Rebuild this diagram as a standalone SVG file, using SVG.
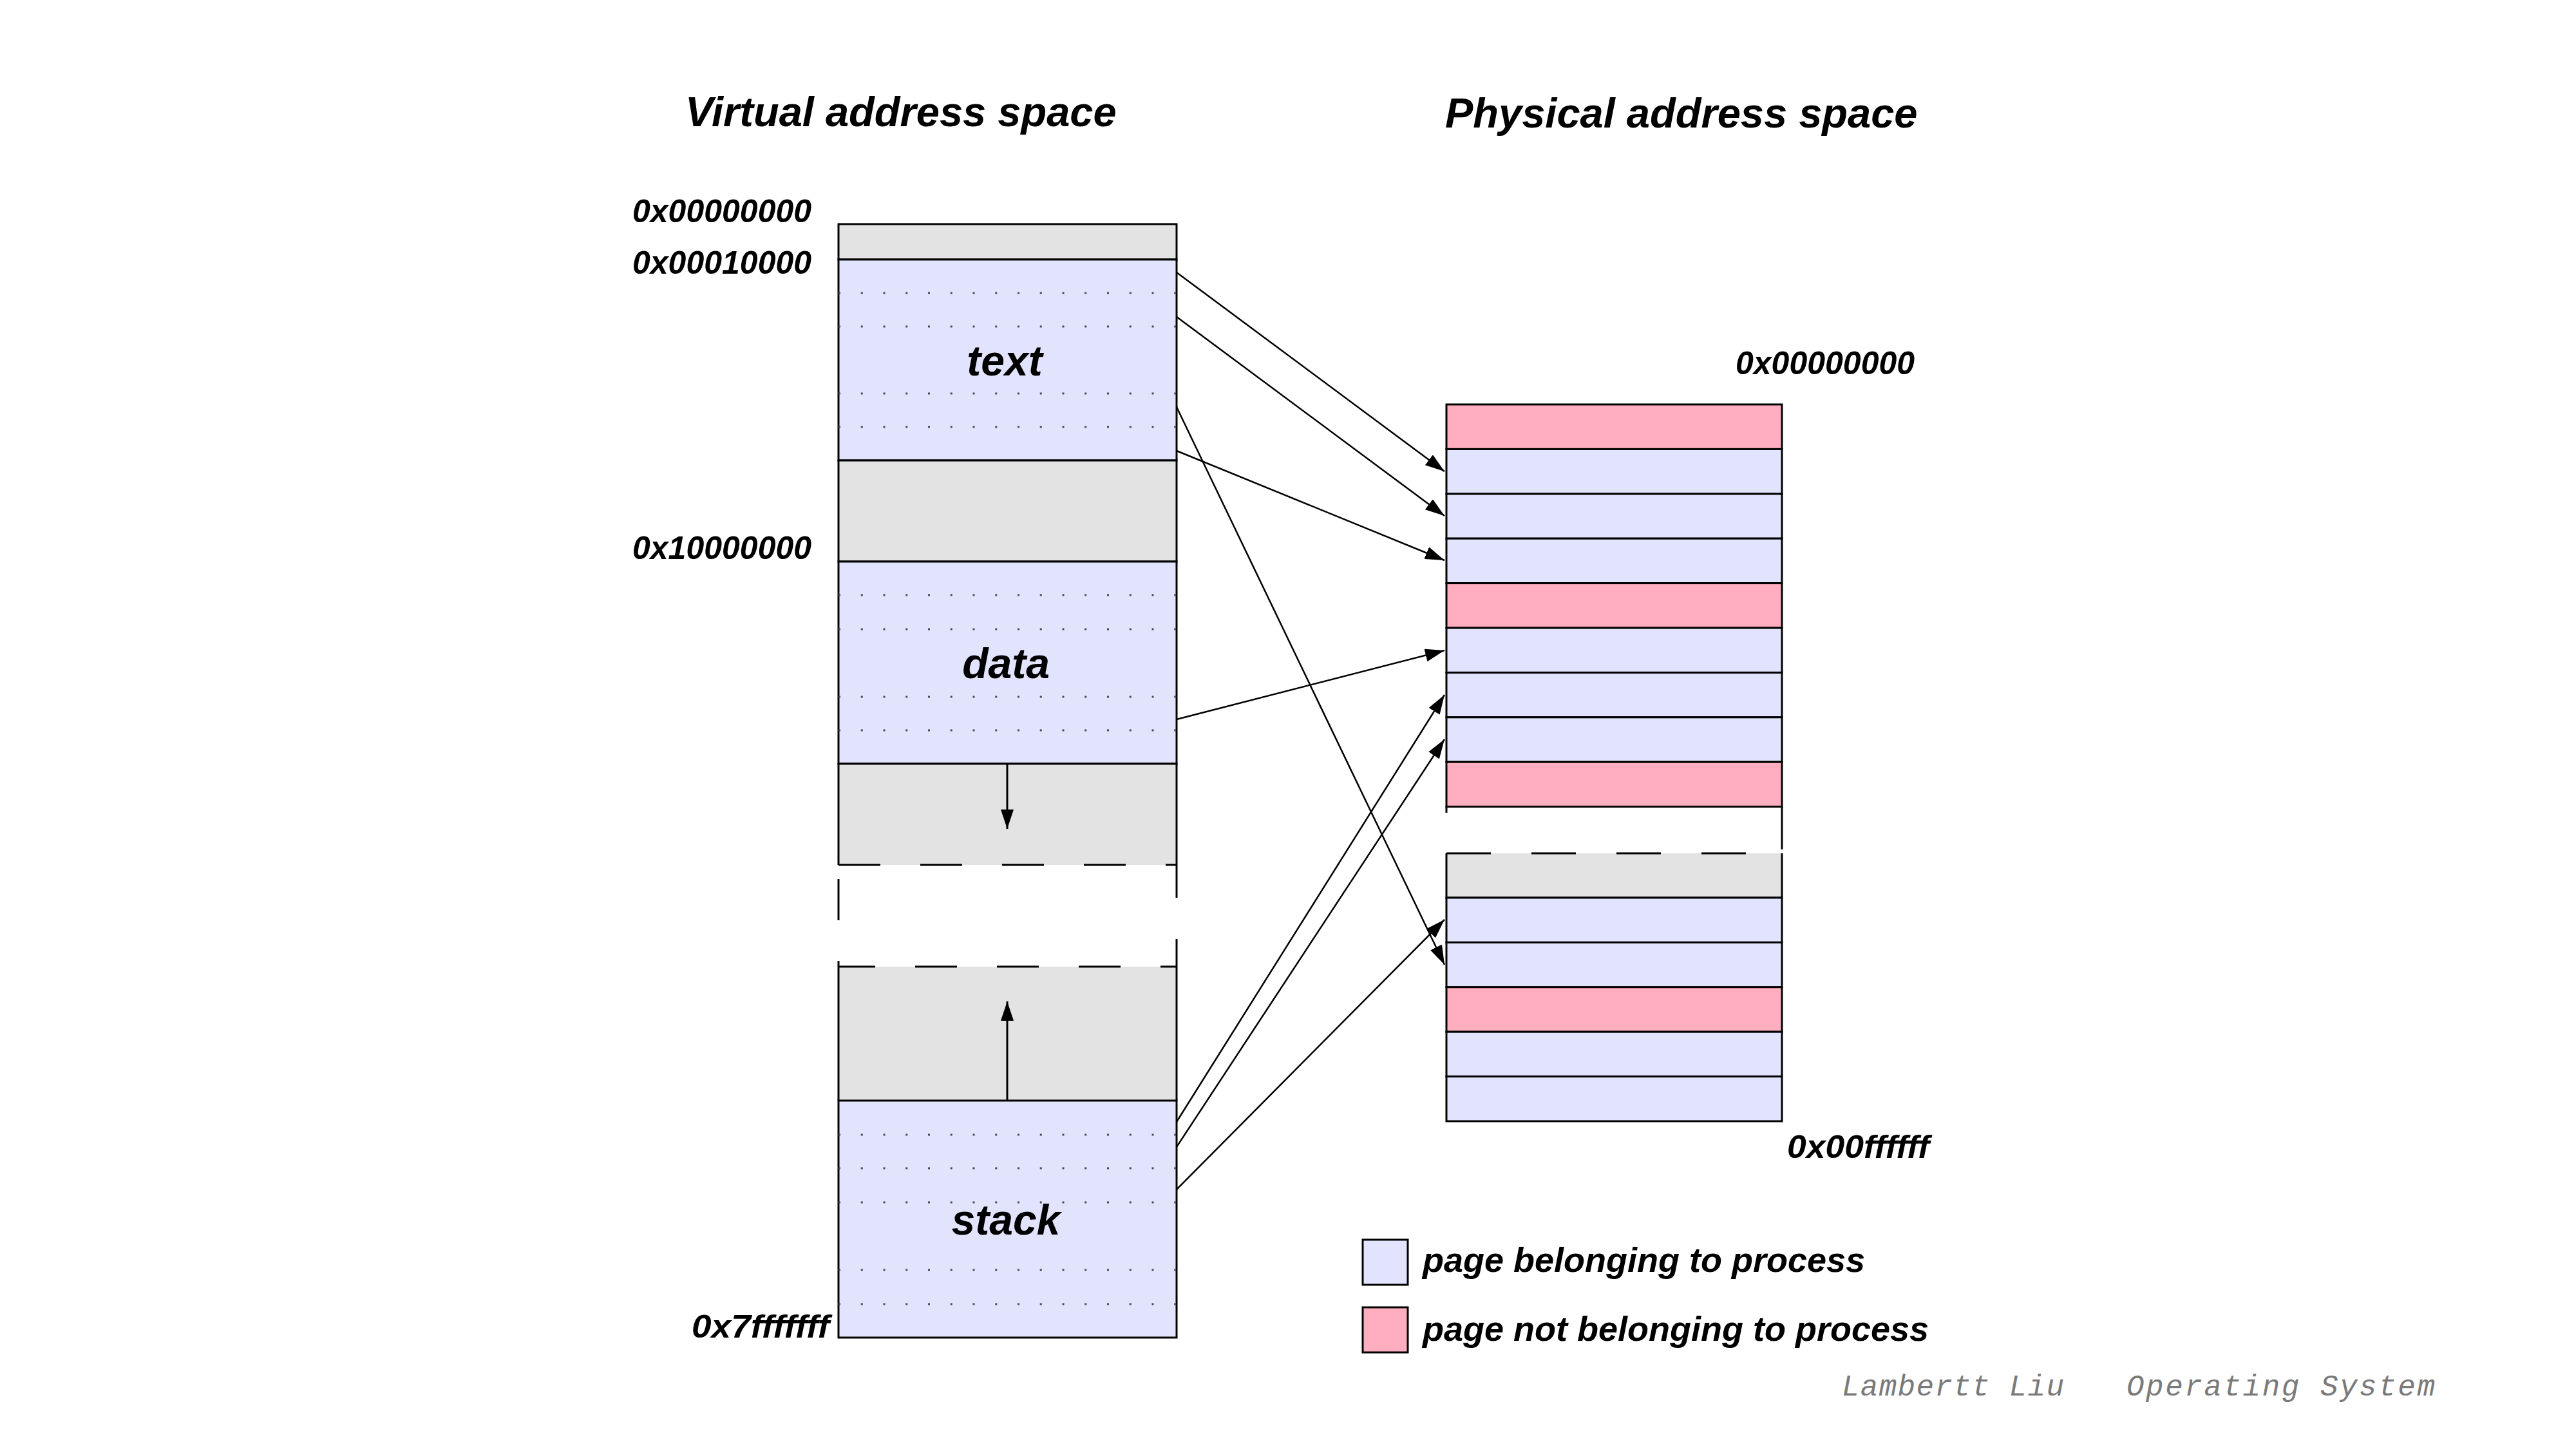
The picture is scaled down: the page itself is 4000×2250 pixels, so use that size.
<svg xmlns="http://www.w3.org/2000/svg" width="4000" height="2250" viewBox="0 0 4000 2250">
  <style>
    .lbl { font-family: "Liberation Sans", Arial, sans-serif; font-weight: bold; font-style: italic; fill: #000; }
    .blue { fill: #e1e4fc; stroke: #000; stroke-width: 3; }
    .gray { fill: #e3e3e3; stroke: none; }
    .pink { fill: #ffaec0; stroke: #000; stroke-width: 3; }
    .edge { stroke: #000; stroke-width: 3; fill: none; }
    .dash { stroke: #000; stroke-width: 3; fill: none; stroke-dasharray: 65 62; }
    .dots { stroke: #4a4a55; stroke-width: 3; stroke-dasharray: 3 31.75; fill: none; }
    .conn { stroke: #000; stroke-width: 2.5; fill: none; marker-end: url(#arrow); }
    .mark { font-family: "Liberation Mono", "DejaVu Sans Mono", monospace; font-style: italic; font-size: 46px; fill: #7a7a7a; }
  </style>
  <defs>
    <marker id="arrow" markerUnits="userSpaceOnUse" viewBox="0 0 30 20" refX="30" refY="10" markerWidth="30" markerHeight="20" orient="auto">
      <path d="M0,0 L30,10 L0,20 z" fill="#000"/>
    </marker>
  </defs>

  <rect width="4000" height="2250" fill="#fff"/>

  <!-- headings -->
  <text class="lbl" x="1064" y="196" font-size="65">Virtual address space</text>
  <text class="lbl" x="2244" y="198" font-size="65">Physical address space</text>

  <!-- virtual address space column -->
  <g id="virtual-space">
    <g id="v-reserved">
      <rect class="gray" x="1302" y="348" width="525" height="55"/>
      <rect class="edge" x="1302" y="348" width="525" height="55"/>
    </g>
    <g id="v-text">
      <rect class="blue" x="1302" y="403" width="525" height="312"/>
      <line class="dots" x1="1302" y1="455" x2="1830" y2="455"/>
      <line class="dots" x1="1302" y1="507" x2="1830" y2="507"/>
      <line class="dots" x1="1302" y1="611" x2="1830" y2="611"/>
      <line class="dots" x1="1302" y1="663" x2="1830" y2="663"/>
      <text class="lbl" x="1560" y="583" font-size="66" text-anchor="middle">text</text>
    </g>
    <g id="v-gap1">
      <rect class="gray" x="1302" y="715" width="525" height="157"/>
      <rect class="edge" x="1302" y="715" width="525" height="157"/>
    </g>
    <g id="v-data">
      <rect class="blue" x="1302" y="872" width="525" height="314"/>
      <line class="dots" x1="1302" y1="924" x2="1830" y2="924"/>
      <line class="dots" x1="1302" y1="977" x2="1830" y2="977"/>
      <line class="dots" x1="1302" y1="1082" x2="1830" y2="1082"/>
      <line class="dots" x1="1302" y1="1134" x2="1830" y2="1134"/>
      <text class="lbl" x="1562" y="1053" font-size="66" text-anchor="middle">data</text>
    </g>
    <g id="v-heap">
      <rect class="gray" x="1302" y="1186" width="525" height="157"/>
      <path class="edge" d="M1302,1343 V1186 H1827 V1343"/>
      <line class="dash" x1="1302" y1="1343" x2="1827" y2="1343"/>
      <line class="edge" x1="1564" y1="1186" x2="1564" y2="1287" marker-end="url(#arrow)"/>
    </g>
    <g id="v-unmapped">
      <line class="edge" x1="1302" y1="1365" x2="1302" y2="1429"/>
      <line class="edge" x1="1827" y1="1343" x2="1827" y2="1394"/>
    </g>
    <g id="v-stack-growth">
      <rect class="gray" x="1302" y="1501" width="525" height="208"/>
      <line class="edge" x1="1302" y1="1492" x2="1302" y2="1709"/>
      <line class="edge" x1="1827" y1="1458" x2="1827" y2="1709"/>
      <line class="dash" x1="1302" y1="1501" x2="1827" y2="1501" stroke-dashoffset="8"/>
      <line class="edge" x1="1564" y1="1709" x2="1564" y2="1555" marker-end="url(#arrow)"/>
    </g>
    <g id="v-stack">
      <rect class="blue" x="1302" y="1709" width="525" height="368"/>
      <line class="dots" x1="1302" y1="1762" x2="1830" y2="1762"/>
      <line class="dots" x1="1302" y1="1814" x2="1830" y2="1814"/>
      <line class="dots" x1="1302" y1="1867" x2="1830" y2="1867"/>
      <line class="dots" x1="1302" y1="1972" x2="1830" y2="1972"/>
      <line class="dots" x1="1302" y1="2025" x2="1830" y2="2025"/>
      <text class="lbl" x="1562" y="1917" font-size="66" text-anchor="middle">stack</text>
    </g>
    <text class="lbl" x="982" y="345" font-size="50">0x00000000</text>
    <text class="lbl" x="982" y="425" font-size="50">0x00010000</text>
    <text class="lbl" x="982" y="868" font-size="50">0x10000000</text>
    <text class="lbl" x="1074" y="2077" font-size="50" textLength="214" lengthAdjust="spacingAndGlyphs">0x7fffffff</text>
  </g>

  <!-- physical address space column -->
  <g id="physical-space">
    <rect class="pink" x="2246" y="628" width="521" height="69.4"/>
    <rect class="blue" x="2246" y="697.4" width="521" height="69.4"/>
    <rect class="blue" x="2246" y="766.8" width="521" height="69.4"/>
    <rect class="blue" x="2246" y="836.2" width="521" height="69.4"/>
    <rect class="pink" x="2246" y="905.6" width="521" height="69.4"/>
    <rect class="blue" x="2246" y="975" width="521" height="69.4"/>
    <rect class="blue" x="2246" y="1044.4" width="521" height="69.4"/>
    <rect class="blue" x="2246" y="1113.8" width="521" height="69.4"/>
    <rect class="pink" x="2246" y="1183.2" width="521" height="69.4"/>
    <line class="edge" x1="2246" y1="1252" x2="2246" y2="1262"/>
    <line class="edge" x1="2767" y1="1252" x2="2767" y2="1319"/>

    <rect class="gray" x="2246" y="1325" width="521" height="69"/>
    <path class="edge" d="M2246,1325 V1394 H2767 V1325"/>
    <line class="dash" x1="2246" y1="1325" x2="2767" y2="1325" style="stroke-dasharray: 69 63"/>
    <rect class="blue" x="2246" y="1394" width="521" height="69.4"/>
    <rect class="blue" x="2246" y="1463.4" width="521" height="69.4"/>
    <rect class="pink" x="2246" y="1532.8" width="521" height="69.4"/>
    <rect class="blue" x="2246" y="1602.2" width="521" height="69.4"/>
    <rect class="blue" x="2246" y="1671.6" width="521" height="69.4"/>

    <text class="lbl" x="2695" y="581" font-size="50">0x00000000</text>
    <text class="lbl" x="2775" y="1798" font-size="50" textLength="221" lengthAdjust="spacingAndGlyphs">0x00ffffff</text>
  </g>

  <!-- page mappings -->
  <g id="connectors">
    <line class="conn" x1="1827" y1="423" x2="2243" y2="732"/>
    <line class="conn" x1="1827" y1="492" x2="2243" y2="801"/>
    <line class="conn" x1="1827" y1="700" x2="2243" y2="870"/>
    <line class="conn" x1="1827" y1="632" x2="2243" y2="1498"/>
    <line class="conn" x1="1827" y1="1117" x2="2243" y2="1010"/>
    <line class="conn" x1="1827" y1="1742" x2="2243" y2="1079"/>
    <line class="conn" x1="1827" y1="1781" x2="2243" y2="1148"/>
    <line class="conn" x1="1827" y1="1847" x2="2243" y2="1428"/>
  </g>

  <!-- legend -->
  <g id="legend">
    <rect class="blue" x="2116" y="1925" width="70" height="70"/>
    <text class="lbl" x="2209" y="1975" font-size="54">page belonging to process</text>
    <rect class="pink" x="2116" y="2030" width="70" height="70"/>
    <text class="lbl" x="2209" y="2082" font-size="54">page not belonging to process</text>
  </g>

  <!-- footer -->
  <text class="mark" x="2860" y="2167" textLength="345" lengthAdjust="spacing">Lambertt Liu</text>
  <text class="mark" x="3302" y="2167" textLength="479" lengthAdjust="spacing">Operating System</text>
</svg>
